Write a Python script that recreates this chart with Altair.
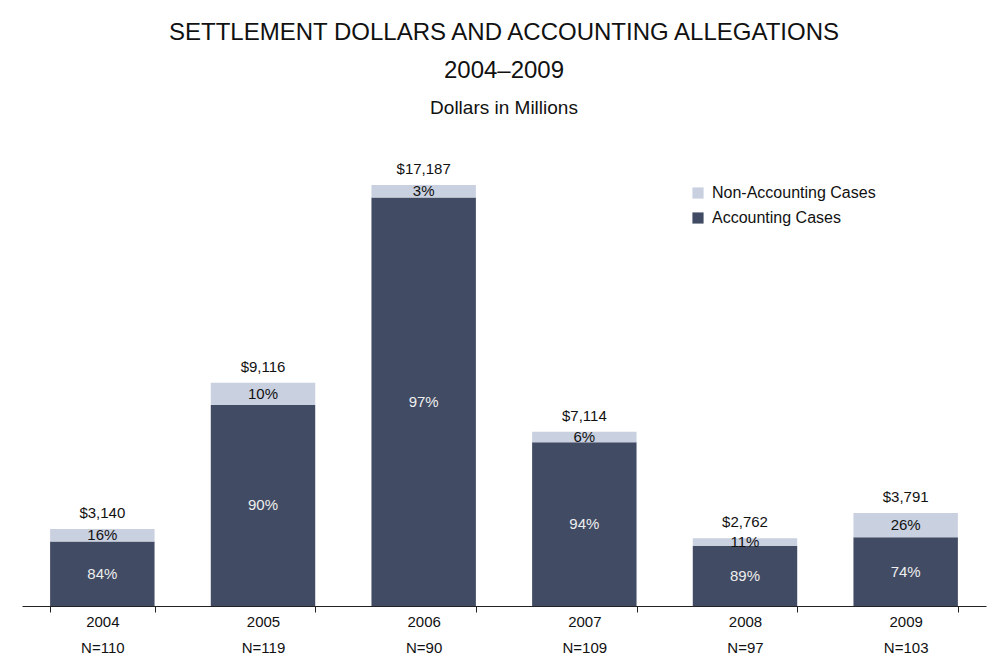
import altair as alt
import pandas as pd

years = ["2004", "2005", "2006", "2007", "2008", "2009"]
totals = [3140, 9116, 17187, 7114, 2762, 3791]
acct_pct = [84, 90, 97, 94, 89, 74]
non_pct = [16, 10, 3, 6, 11, 26]
n_cases = [110, 119, 90, 109, 97, 103]
series_names = ["Non-Accounting Cases", "Accounting Cases"]
colors = ["#c9d0e0", "#414b63"]

rows = []
tot_rows = []
for y, t, a, na, n in zip(years, totals, acct_pct, non_pct, n_cases):
    cat = f"{y}|N={n}"
    rows.append(dict(cat=cat, series="Accounting Cases", value=t * a / 100, pct=f"{a}%", order=1))
    rows.append(dict(cat=cat, series="Non-Accounting Cases", value=t * na / 100, pct=f"{na}%", order=2))
    tot_rows.append(dict(cat=cat, total=t, label=f"${t:,}"))
df = pd.DataFrame(rows)
tdf = pd.DataFrame(tot_rows)
cats = [f"{y}|N={n}" for y, n in zip(years, n_cases)]

FONT = "Liberation Sans"

x_enc = alt.X("cat:N", sort=cats, title=None,
              scale=alt.Scale(paddingInner=0.35, paddingOuter=0.175),
              axis=alt.Axis(labelExpr="split(datum.label, '|')", labelAngle=0,
                            tickBand="extent", labelLineHeight=26, labelPadding=2,
                            labelFontSize=15, labelFont=FONT, labelColor="#111111",
                            domainColor="#222222", tickColor="#222222", tickSize=6))
y_scale = alt.Scale(domain=[0, 20000], nice=False)

base = alt.Chart(df).transform_stack(
    stack="value", groupby=["cat"], as_=["y0", "y1"], sort=[alt.SortField("order")]
).transform_calculate(mid="(datum.y0 + datum.y1) / 2")

bars = base.mark_bar().encode(
    x=x_enc,
    y=alt.Y("y0:Q", scale=y_scale, axis=None),
    y2="y1:Q",
    color=alt.Color("series:N", scale=alt.Scale(domain=series_names, range=colors),
                    legend=alt.Legend(title=None, orient="none", legendX=668, legendY=69,
                                      symbolType="square", symbolSize=125,
                                      symbolStrokeWidth=0, labelFontSize=16,
                                      labelFont=FONT, labelColor="#111111", labelLimit=300,
                                      rowPadding=9, padding=0, labelOffset=6)),
)

pct_text = base.mark_text(fontSize=15, font=FONT, baseline="middle").encode(
    x=alt.X("cat:N", sort=cats),
    y=alt.Y("mid:Q", scale=y_scale),
    text="pct:N",
    color=alt.Color("series:N", scale=alt.Scale(domain=series_names, range=["#111111", "#eeeeee"]),
                    legend=None),
)

tot_text = alt.Chart(tdf).mark_text(fontSize=15, font=FONT, baseline="middle", dy=-16,
                                    color="#111111").encode(
    x=alt.X("cat:N", sort=cats),
    y=alt.Y("total:Q", scale=y_scale),
    text="label:N",
)

chart = alt.layer(bars, pct_text, tot_text).resolve_scale(color="independent").properties(
    width=964, height=490,
    background="white",
    autosize=alt.AutoSizeParams(type="none"),
    padding={"left": 14, "top": 108, "right": 14, "bottom": 50},
    title=alt.TitleParams(
        text=["SETTLEMENT DOLLARS AND ACCOUNTING ALLEGATIONS", "2004\u20132009"],
        subtitle="Dollars in Millions",
        fontSize=24, lineHeight=38, font=FONT, fontWeight="normal", color="#111111",
        subtitleFontSize=19, subtitleFont=FONT, subtitleColor="#111111",
        subtitlePadding=16, anchor="middle", frame="group", offset=-2,
    ),
).configure_view(strokeWidth=0, stroke="transparent")

chart.save("out.html", embed_options={"renderer": "svg", "actions": False})
